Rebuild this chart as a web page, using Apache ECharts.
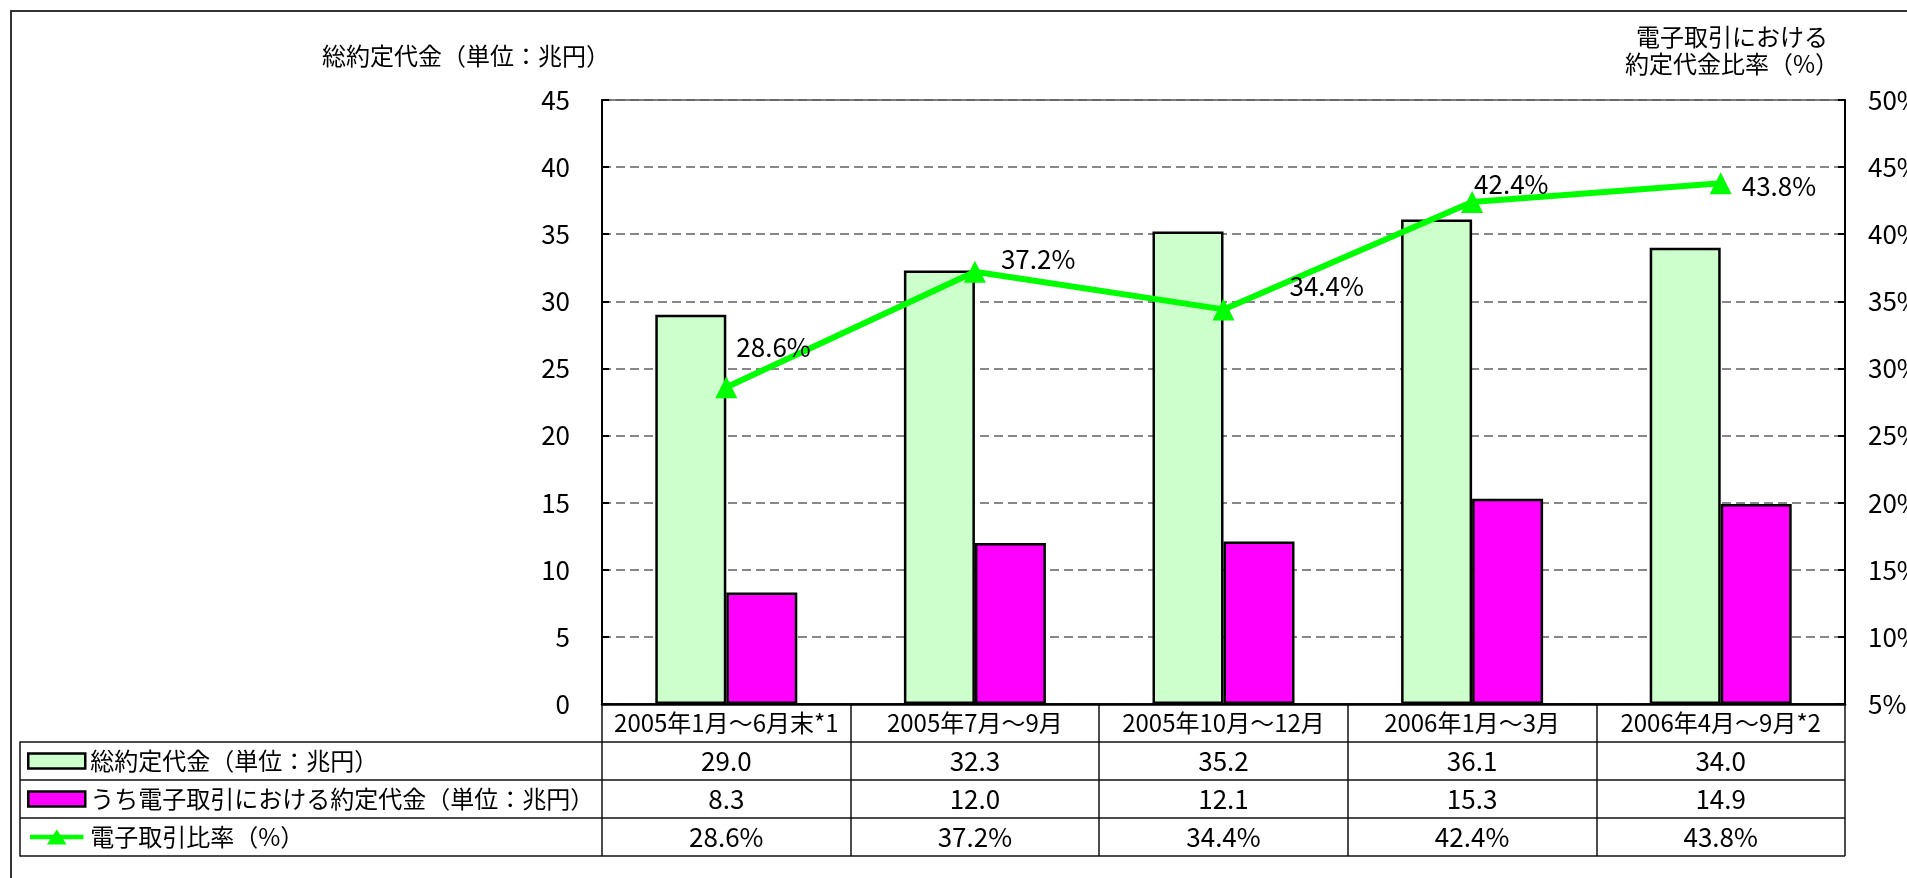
<!DOCTYPE html>
<html>
<head>
<meta charset="utf-8">
<script src="https://cdn.jsdelivr.net/npm/echarts@6/dist/echarts.min.js"></script>
<style>
html, body { margin: 0; padding: 0; background: #fff; }
#main { width: 1907px; height: 878px; }
</style>
</head>
<body>
<div id="main"></div>
<script>
var categories = ['2005年1月～6月末*1', '2005年7月～9月', '2005年10月～12月', '2006年1月～3月', '2006年4月～9月*2'];
var totalAmount = [29.0, 32.3, 35.2, 36.1, 34.0];
var electronicAmount = [8.3, 12.0, 12.1, 15.3, 14.9];
var electronicRatio = [28.6, 37.2, 34.4, 42.4, 43.8];
var seriesNames = ['総約定代金（単位：兆円）', 'うち電子取引における約定代金（単位：兆円）', '電子取引比率（%）'];
var leftAxisRange = [0, 45, 5];
var rightAxisRange = [5, 50, 5];

// hand placed labels, like the moved ones in the original sheet
var ratioLabelOffsets = [[-6, -40], [10, -13], [50, -23], [-14, -18], [5, 3]];

var FONT = 'Noto Sans CJK JP';
var chart = echarts.init(document.getElementById('main'));

// text for the data table under the chart
var tableRows = [
    totalAmount.map(function (v) { return v.toFixed(1); }),
    electronicAmount.map(function (v) { return v.toFixed(1); }),
    electronicRatio.map(function (v) { return v.toFixed(1) + '%'; })
];
var tableCells = [];
tableRows.forEach(function (row, r) {
    row.forEach(function (t, i) {
        tableCells.push([i, r + 1, t]);
    });
});

var tableLine = { color: '#111', width: 1.5 };
// thick line with a triangle in the middle, for the legend key
var lineKeyIcon = 'path://M0 5.5L57 5.5L57 10.5L0 10.5Z M18 16L28.5 0L39 16Z';

var option = {
    animation: false,
    backgroundColor: '#fff',
    textStyle: { fontFamily: FONT },
    graphic: [
        {
            type: 'rect', shape: { x: 11, y: 11, width: 2000, height: 2000 },
            style: { fill: null, stroke: '#333', lineWidth: 2 }, silent: true
        },
        {
            type: 'text', x: 610, y: 56,
            style: { text: '総約定代金（単位：兆円）', align: 'right', verticalAlign: 'middle', fontSize: 24, fontFamily: FONT, fill: '#000' }
        },
        {
            type: 'text', x: 1732, y: 50,
            style: { text: '電子取引における\n約定代金比率（%）', align: 'center', verticalAlign: 'middle', fontSize: 24, lineHeight: 27, fontFamily: FONT, fill: '#000' }
        }
    ],
    legend: {
        orient: 'vertical',
        left: 27,
        top: 749,
        padding: 0,
        itemWidth: 57,
        itemHeight: 15,
        itemGap: 14,
        selectedMode: false,
        textStyle: { fontSize: 24, lineHeight: 24, color: '#000', fontFamily: FONT },
        data: [
            { name: seriesNames[0], icon: 'rect', itemStyle: { color: '#CCFFCC', borderColor: '#000', borderWidth: 2.5 } },
            { name: seriesNames[1], icon: 'rect', itemStyle: { color: '#FF00FF', borderColor: '#000', borderWidth: 2.5 } },
            { name: seriesNames[2], icon: lineKeyIcon, itemStyle: { color: '#00FF00', borderWidth: 0 } }
        ]
    },
    grid: [
        { left: 602, right: 62, top: 100, bottom: 174, show: true, borderColor: '#808080', borderWidth: 2, outerBoundsMode: 'none' },
        { left: 602, right: 62, top: 704, height: 152, outerBoundsMode: 'none' },
        { left: 20, width: 582, top: 742, height: 114, outerBoundsMode: 'none' }
    ],
    xAxis: [
        {
            type: 'category', gridIndex: 0, data: categories,
            axisLine: { lineStyle: { color: '#000', width: 2.5 } },
            axisTick: { show: false },
            axisLabel: { interval: 0, fontSize: 24, lineHeight: 26, margin: 6, color: '#000', fontFamily: FONT }
        },
        {
            type: 'category', gridIndex: 1, data: categories,
            axisLine: { show: false }, axisTick: { show: false }, axisLabel: { show: false },
            splitLine: { show: true, interval: 0, lineStyle: tableLine }
        },
        {
            type: 'value', gridIndex: 2, show: false
        }
    ],
    yAxis: [
        {
            type: 'value', gridIndex: 0, position: 'left',
            min: leftAxisRange[0], max: leftAxisRange[1], interval: leftAxisRange[2],
            axisLine: { show: true, lineStyle: { color: '#000', width: 2 } },
            axisTick: { show: true, inside: true, length: 7, lineStyle: { color: '#000', width: 2 } },
            axisLabel: { fontSize: 26, margin: 32, color: '#000', fontFamily: FONT },
            splitLine: { show: true, lineStyle: { color: '#606060', width: 1.5, type: [9, 5] } }
        },
        {
            type: 'value', gridIndex: 0, position: 'right',
            min: rightAxisRange[0], max: rightAxisRange[1], interval: rightAxisRange[2],
            axisLine: { show: true, lineStyle: { color: '#000', width: 2 } },
            axisTick: { show: true, inside: true, length: 7, lineStyle: { color: '#000', width: 2 } },
            axisLabel: { fontSize: 26, margin: 23, color: '#000', fontFamily: FONT, formatter: '{value}%' },
            splitLine: { show: false }
        },
        {
            type: 'category', gridIndex: 1, inverse: true, data: ['', 'r1', 'r2', 'r3'],
            axisLine: { show: false }, axisTick: { show: false }, axisLabel: { show: false },
            splitLine: { show: true, interval: 0, lineStyle: tableLine }
        },
        {
            type: 'category', gridIndex: 2, inverse: true, data: ['r1', 'r2', 'r3'],
            axisLine: { show: true, lineStyle: tableLine }, axisTick: { show: false }, axisLabel: { show: false },
            splitLine: { show: true, interval: 0, lineStyle: tableLine }
        }
    ],
    series: [
        {
            name: seriesNames[0], type: 'bar', xAxisIndex: 0, yAxisIndex: 0,
            data: totalAmount, barWidth: 71, barGap: '0%',
            itemStyle: { color: '#CCFFCC', borderColor: '#000', borderWidth: 2.5 }
        },
        {
            name: seriesNames[1], type: 'bar', xAxisIndex: 0, yAxisIndex: 0,
            data: electronicAmount, barWidth: 71, barGap: '0%',
            itemStyle: { color: '#FF00FF', borderColor: '#000', borderWidth: 2.5 }
        },
        {
            name: seriesNames[2], type: 'line', xAxisIndex: 0, yAxisIndex: 1,
            data: electronicRatio.map(function (v, i) {
                return { value: v, label: { offset: ratioLabelOffsets[i] } };
            }),
            symbol: 'triangle', symbolSize: 22, z: 5,
            lineStyle: { color: '#00FF00', width: 6 },
            itemStyle: { color: '#00FF00' },
            label: { show: true, position: 'right', formatter: '{c}%', fontSize: 26, color: '#000', fontFamily: FONT }
        },
        {
            type: 'custom', xAxisIndex: 1, yAxisIndex: 2, silent: true,
            data: tableCells.map(function (c) { return [c[0], c[1]]; }),
            renderItem: function (params, api) {
                var p = api.coord([api.value(0), api.value(1)]);
                return {
                    type: 'text', x: p[0], y: p[1],
                    style: {
                        text: tableCells[params.dataIndex][2], align: 'center', verticalAlign: 'middle',
                        fontSize: 26, fontFamily: FONT, fill: '#000'
                    }
                };
            }
        }
    ]
};

chart.setOption(option);
</script>
</body>
</html>
